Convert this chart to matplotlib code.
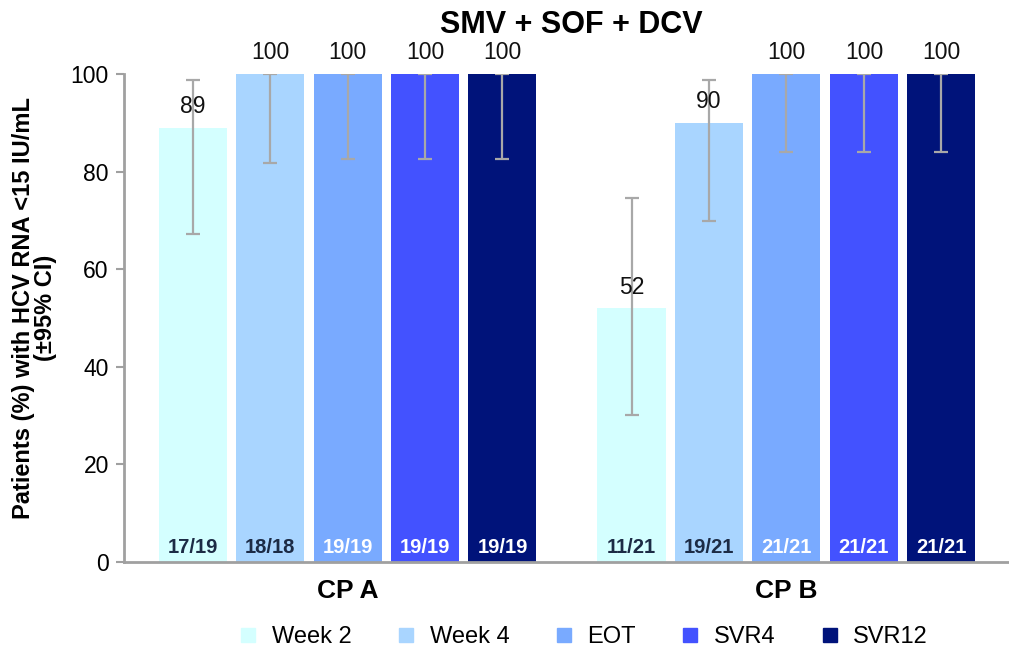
import numpy as np
import matplotlib
matplotlib.use("Agg")
import matplotlib.pyplot as plt
from matplotlib.lines import Line2D

plt.rcParams['font.family'] = ['Liberation Sans', 'DejaVu Sans']

# --- Dane ---
groups = ["CP A", "CP B"]
timepoints = ["Week 2", "Week 4", "EOT", "SVR4", "SVR12"]
colors = ["#D4FFFF", "#A9D5FF", "#79AAFF", "#4352FF", "#00137A"]
frac_colors = ["#1C2B45", "#1C2B45", "white", "white", "white"]

# odsetek pacjentów dla każdego punktu czasowego (CP A, CP B)
values = {
    "Week 2": [89, 52],
    "Week 4": [100, 90],
    "EOT": [100, 100],
    "SVR4": [100, 100],
    "SVR12": [100, 100],
}
ci_low = {
    "Week 2": [67.2, 30.1],
    "Week 4": [81.8, 69.9],
    "EOT": [82.6, 84.0],
    "SVR4": [82.6, 84.0],
    "SVR12": [82.6, 84.0],
}
ci_high = {
    "Week 2": [98.8, 74.6],
    "Week 4": [100, 98.8],
    "EOT": [100, 100],
    "SVR4": [100, 100],
    "SVR12": [100, 100],
}
fractions = {
    "Week 2": ["17/19", "11/21"],
    "Week 4": ["18/18", "19/21"],
    "EOT": ["19/19", "21/21"],
    "SVR4": ["19/19", "21/21"],
    "SVR12": ["19/19", "21/21"],
}

fig = plt.figure(figsize=(10.09, 6.64), dpi=100)
ax = fig.add_axes([0.123, 0.1536, 0.877, 0.735])

x = np.arange(len(groups))
step = 0.1765
width = 0.155

for i, tp in enumerate(timepoints):
    xs = x + (i - 2) * step
    vals = np.array(values[tp], dtype=float)
    lo = vals - np.array(ci_low[tp])
    hi = np.array(ci_high[tp]) - vals
    ax.bar(xs, vals, width, color=colors[i], zorder=2)
    ax.errorbar(xs, vals, yerr=[lo, hi], fmt="none", ecolor="#A8A8A8",
                elinewidth=1.6, capsize=5, capthick=1.6, zorder=3)
    for xi, v, fr in zip(xs, vals, fractions[tp]):
        ax.annotate(f"{v:.0f}", (xi, v), xytext=(0, 7), textcoords="offset points",
                    ha="center", va="bottom", fontsize=16.5, color="#111111", zorder=4)
        ax.text(xi, 3, fr, ha="center", va="center", fontsize=14.5,
                fontweight="bold", color=frac_colors[i], zorder=4)

ax.set_xlim(-0.509, 1.507)
ax.set_ylim(0, 100)
ax.set_yticks([0, 20, 40, 60, 80, 100])
ax.set_xticks(x)
ax.set_xticklabels(groups, fontsize=19, fontweight="bold")
ax.tick_params(axis="x", length=0, pad=12)
ax.tick_params(axis="y", labelsize=16.5, length=6, width=1.5, color="#A0A0A0", pad=5)

for s in ["top", "right"]:
    ax.spines[s].set_visible(False)
for s in ["left", "bottom"]:
    ax.spines[s].set_color("#A0A0A0")
    ax.spines[s].set_linewidth(2)

ax.set_ylabel("Patients (%) with HCV RNA <15 IU/mL\n(±95% CI)", fontsize=17,
              fontweight="bold", linespacing=0.95)
ax.yaxis.set_label_coords(-0.076, 0.52)

fig.text(0.566, 0.962, "SMV + SOF + DCV", ha="center", va="center",
         fontsize=22, fontweight="bold")

handles = [Line2D([0], [0], marker="s", linestyle="none", markersize=10,
                  markerfacecolor=c, markeredgecolor=c) for c in colors]
fig.legend(handles, timepoints, loc="center", bbox_to_anchor=(0.577, 0.04), ncol=5,
           frameon=False, fontsize=17, handletextpad=0.5, columnspacing=1.8,
           handlelength=1.0)

fig.savefig("out.png", dpi=100)
